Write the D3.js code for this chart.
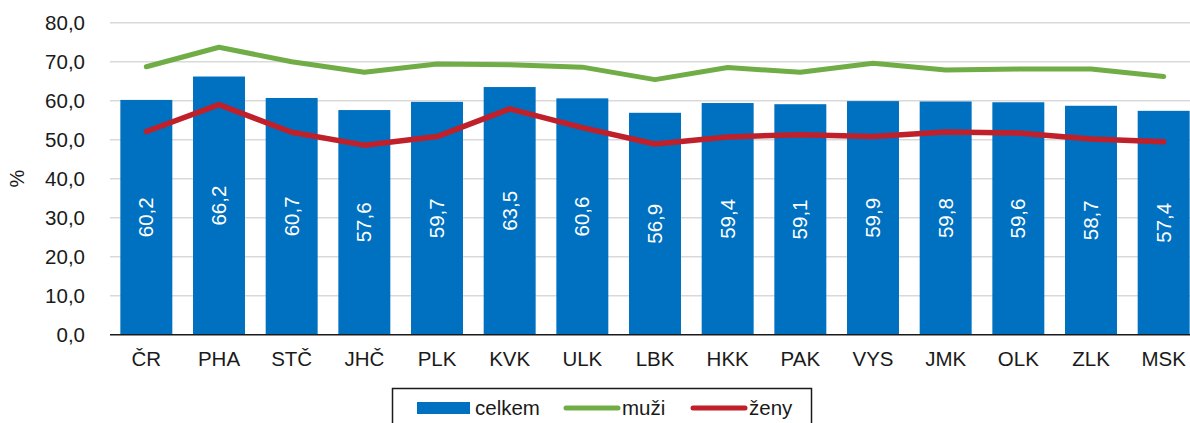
<!DOCTYPE html>
<html>
<head>
<meta charset="utf-8">
<script src="https://cdn.jsdelivr.net/npm/d3@7"></script>
<style>
  html, body { margin: 0; padding: 0; background: #fff; }
  svg { display: block; font-family: "Liberation Sans", Arial, sans-serif; }
</style>
</head>
<body>
<div id="chart"></div>
<script>
const regions = ["ČR", "PHA", "STČ", "JHČ", "PLK", "KVK", "ULK", "LBK", "HKK", "PAK", "VYS", "JMK", "OLK", "ZLK", "MSK"]
const celkem = [60.2, 66.2, 60.7, 57.6, 59.7, 63.5, 60.6, 56.9, 59.4, 59.1, 59.9, 59.8, 59.6, 58.7, 57.4]
const muzi = [68.7, 73.7, 70.0, 67.3, 69.4, 69.2, 68.6, 65.4, 68.5, 67.3, 69.6, 67.9, 68.1, 68.1, 66.2]
const zeny = [52.1, 59.0, 51.9, 48.6, 50.8, 57.9, 53.1, 48.9, 50.7, 51.3, 50.8, 52.0, 51.7, 50.2, 49.5]
const yTicks = [0, 10, 20, 30, 40, 50, 60, 70, 80]

const width = 1190
const height = 423
const fmt = v => d3.format(".1f")(v).replace(".", ",")

const svg = d3.select("#chart")
  .append("svg")
  .attr("width", width)
  .attr("height", height)
  .attr("viewBox", [0, 0, width, height])

// Scales
const x = d3.scaleBand()
  .domain(regions)
  .range([110, 1200])
  .paddingInner(0.285)
  .paddingOuter(0.1425)

const y = d3.scaleLinear()
  .domain([0, 80])
  .range([334.7, 22.7])

// Gridlines
svg.append("g")
  .selectAll("line")
  .data(yTicks.filter(t => t > 0))
  .join("line")
  .attr("x1", 110)
  .attr("x2", width)
  .attr("y1", d => y(d))
  .attr("y2", d => y(d))
  .attr("stroke", "#d9d9d9")
  .attr("stroke-width", 1.5)

// Y axis labels
const yAxis = svg.append("g")
  .attr("transform", "translate(110,0)")
  .call(d3.axisLeft(y).tickValues(yTicks).tickFormat(fmt).tickSize(0).tickPadding(25))
yAxis.select(".domain").remove()
yAxis.selectAll("text")
  .attr("font-size", "20.5px")
  .attr("font-family", "Liberation Sans, Arial, sans-serif")
  .attr("fill", "#1a1a1a")

svg.append("text")
  .attr("transform", `translate(24,${y(40)}) rotate(-90)`)
  .attr("text-anchor", "middle")
  .attr("font-size", "20px")
  .attr("fill", "#1a1a1a")
  .text("%")

// Bars
svg.append("g")
  .selectAll("rect")
  .data(celkem)
  .join("rect")
  .attr("x", (d, i) => x(regions[i]))
  .attr("y", d => y(d))
  .attr("width", x.bandwidth())
  .attr("height", d => y(0) - y(d))
  .attr("fill", "#0070c0")

// Baseline
svg.append("line")
  .attr("x1", 110)
  .attr("x2", width)
  .attr("y1", y(0))
  .attr("y2", y(0))
  .attr("stroke", "#1a1a1a")
  .attr("stroke-width", 1.5)

// Bar labels
svg.append("g")
  .selectAll("text")
  .data(celkem)
  .join("text")
  .attr("transform", (d, i) => `translate(${x(regions[i]) + x.bandwidth() / 2 + 7},${y(d / 2)}) rotate(-90)`)
  .attr("text-anchor", "middle")
  .attr("font-size", "20.5px")
  .attr("fill", "#fff")
  .text(fmt)

// X labels
const xAxis = svg.append("g")
  .attr("transform", `translate(0,${y(0)})`)
  .call(d3.axisBottom(x).tickSize(0).tickPadding(17))
xAxis.select(".domain").remove()
xAxis.selectAll("text")
  .attr("font-size", "20.5px")
  .attr("font-family", "Liberation Sans, Arial, sans-serif")
  .attr("fill", "#1a1a1a")

// Lines
const line = d3.line()
  .x((d, i) => x(regions[i]) + x.bandwidth() / 2)
  .y(d => y(d))

svg.append("path")
  .datum(muzi)
  .attr("d", line)
  .attr("fill", "none")
  .attr("stroke", "#70ad47")
  .attr("stroke-width", 5)
  .attr("stroke-linecap", "round")
  .attr("stroke-linejoin", "round")

svg.append("path")
  .datum(zeny)
  .attr("d", line)
  .attr("fill", "none")
  .attr("stroke", "#c0202a")
  .attr("stroke-width", 5.5)
  .attr("stroke-linecap", "round")
  .attr("stroke-linejoin", "round")

// Legend
const legend = svg.append("g")
legend.append("rect")
  .attr("x", 392.5)
  .attr("y", 388.5)
  .attr("width", 419)
  .attr("height", 50)
  .attr("fill", "#fff")
  .attr("stroke", "#1a1a1a")
  .attr("stroke-width", 1.5)

const legendItems = [
  { label: "celkem", x: 417, type: "bar", color: "#0070c0" },
  { label: "muži", x: 564, type: "line", color: "#70ad47" },
  { label: "ženy", x: 691, type: "line", color: "#c0202a" }
]

legendItems.forEach(item => {
  if (item.type === "bar") {
    legend.append("rect")
      .attr("x", item.x)
      .attr("y", 402)
      .attr("width", 53)
      .attr("height", 12)
      .attr("fill", item.color)
  } else {
    legend.append("line")
      .attr("x1", item.x + 2)
      .attr("x2", item.x + 54)
      .attr("y1", 408)
      .attr("y2", 408)
      .attr("stroke", item.color)
      .attr("stroke-width", 5)
      .attr("stroke-linecap", "round")
  }
  legend.append("text")
    .attr("x", item.x + 58)
    .attr("y", 415)
    .attr("font-size", "20.5px")
    .attr("fill", "#1a1a1a")
    .text(item.label)
})
</script>
</body>
</html>
